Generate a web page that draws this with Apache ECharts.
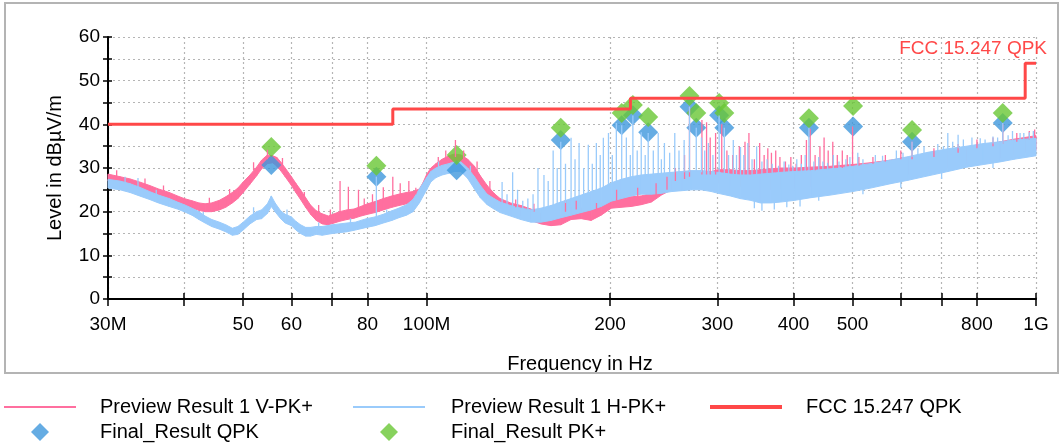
<!DOCTYPE html>
<html><head><meta charset="utf-8">
<script src="https://cdn.jsdelivr.net/npm/echarts@6/dist/echarts.min.js"></script>
<style>html,body{margin:0;padding:0;background:#fff}#c{width:1062px;height:445px}</style>
</head><body><div id="c"></div>
<script>
// ---------- data (frequencies in MHz, levels in dBµV/m) ----------
const TICK_FREQS = [30,40,50,60,70,80,100,200,300,400,500,600,700,800,1000];
const LABEL_FREQS = [30,50,60,80,100,200,300,400,500,800,1000];
const LABEL_TEXT = ['30M','50','60','80','100M','200','300','400','500','800','1G'];

// Preview Result 1 V-PK+ : [freq, low edge, high edge] of the noise band
const V_BAND = [
[30,27,28.6],[31.4,26.5,28],[32.6,25.8,27.5],[33.8,25,26.8],[35.1,24.2,26],[36.3,23.5,25.2],
[37.8,22.6,24.4],[39,22,23.6],[40,21.4,23],[41.2,20.8,22.5],[42.3,20.3,22],[43.3,20,21.8],
[44.4,20,22],[45.7,20.4,22.6],[46.8,21,23.4],[48,22,24.4],[49,23,25.4],[50,24.4,26.8],
[51.3,26.3,28.4],[52.6,28.2,30.2],[53.6,29.8,31.8],[54.8,31,33],[55.9,31.2,32.8],[56.8,30.4,32.4],
[57.6,29.4,31.4],[58.6,28,30],[60,26,28],[61,24.4,26.5],[62.1,22.8,25],[63.3,21,23.2],
[64.5,19.4,21.5],[65.9,18,20.2],[67.4,17.2,19.5],[69,17,19],[70.5,17.4,19.5],[72,17.8,20],
[74,18.2,20.4],[76,18.5,20.6],[78,19,21.2],[80,19.4,21.8],[82.3,19.8,22.3],[84.9,20.4,23],
[87.7,21,23.6],[90,21.4,24],[92.7,21.8,24.4],[95,22,24.6],[97.3,22.6,25.2],[98.6,24,26.6],
[100,26,28.5],[101.6,27.6,30],[103.6,28.6,31],[106,29.4,32],[108.8,30,32.8],[111,30.4,33.2],
[113.8,30,33],[116.8,28.8,32],[119.8,27,30.4],[122.5,25,28.2],[125.7,23.2,26],[129,21.6,24.2],
[132,20.8,23],[137.3,19.8,22],[142.8,19,21.4],[148.3,18,20.6],[154,17.2,19.6],[160,16.8,19],
[166,17,19.2],[172.6,18.2,21],[179.3,18.4,20.8],[186.2,18,20.4],[193.4,19.2,21.8],[200.9,20.8,23],
[208.7,21,23.2],[216.7,21.2,23.4],[225,21.6,23.6],[233.8,22.2,24.2],[242.8,23.8,26],[252,25,27.4],
[262,25.8,28],[272,26.4,28.6],[282.5,26.8,29],[293.4,27,29.2],[301,26.6,29.6],[315,26,29.6],
[327,25.8,29.4],[340,25.6,29.4],[353,25.4,29.6],[367,25.2,29.8],[381,25.2,30],[402,25.4,30],
[427,25.8,30.2],[460,26.2,30.4],[500,26.8,30.8],[535,27.4,31.2],[577,28,31.8],[617,28.6,32.4],
[665,29.2,33],[717,30,33.8],[770,30.8,34.6],[820,31.5,35.2],[873,32.4,36],[920,33,36.6],
[960,33.6,37],[1000,34,37.4]
];
// V spikes: [freq, foot, tip]
const V_SPIKES = [
[54.8,32,34.2],[72.1,19,27],[74.4,19.5,25.7],[77.3,20,25],[84.9,22,25.6],[88,23,28],
[111.5,32.5,36.4],[169,20,22.7],[256,27,30],[265,27.5,33],[270,28,44],[283,28.5,41],
[288,28.5,40.5],[292,28.5,37],[298,28.5,38],[305,29,40],[311,29,34],[318,29,33],[326,29,35],
[333,29,36],[338,29,38],[345,29,32],[352,29,35.7],[358,29,33],[363,29,34.5],[368,29,33.5],
[374,29,34],[380,29.5,32.5],[388,29.5,31.5],[396,29.5,32.5],[404,29.5,31],[412,29.5,33],
[420,29.5,36.4],[426,29.5,39],[434,29.5,33],[442,30,35],[449,30,37],[456,30,34],[464,30,36],
[472,30,33],[481,30,34],[490,30.5,33],[500,30.5,39.5],[512,30.5,32.5],[540,31,32.5],[566,31.5,33],
[600,32,34],[626,32,36],[680,32.5,34.5],[745,33.5,35.5],[800,34.5,36.5],[850,35,37],[882,35.5,40],
[930,36,38],[975,36.5,38.5],[995,37,38.8]
];
// short noise needles on the V trace
const V_NOISE = [
[31,28,29.5],[34.5,26,27.6],[37,24.5,26],[44,21.5,23.2],[47.5,23.5,25.2],[52,29.5,31.3],
[58,30.5,32.3],[63,22.5,24.5],[66.5,19.5,21.5],[69.5,18.5,20.5],[79,20.5,23],[81.5,21.5,24],
[90.5,23.5,26.5],[93.5,24,27],[96,24,25.5],[104.5,30.5,32.5],[107.5,31.5,34],[115,32,34],
[121,29,31.5],[127,25,27],[140,21,22.8],[150,20,21.8],[176,20.5,22.5],[190,20,22],
[205,22.5,25],[222,23,25.5],[238,23.5,26.5],[248,25,28]
];

// Preview Result 1 H-PK+
const H_BAND = [
[30,25.4,27.4],[31.4,25,27],[32.6,24.4,26.4],[33.8,23.6,25.6],[35.1,22.8,24.6],[36.3,22,23.8],
[37.8,21.2,23],[39,20.6,22.2],[40,20,21.6],[41.2,19.2,20.8],[42.3,18.2,20],[43.3,17.4,19],
[44.4,16.6,18.2],[45.7,16,17.6],[46.8,15.4,17],[48,14.6,16.2],[49,14.8,16.6],[50,15.8,17.6],
[51.3,17.2,19],[52.6,18.2,20],[53.6,18.4,20.4],[54.8,19.6,21.8],[55.6,21.2,23.6],[56.4,20,22],
[57.6,18.4,20.2],[58.6,17.4,19.4],[60,16.8,18.8],[61,15.8,17.8],[62.1,15,17],[63.3,14.4,16.4],
[64.5,14.4,16.4],[65.9,14.8,16.6],[67.4,14.6,16.6],[70,15,17],[72,15.2,17.2],[74,15.4,17.4],
[76.4,15.8,17.6],[79.7,16.4,18.4],[82.3,16.8,18.8],[84.9,17.4,19.4],[87.7,18,20.2],[90,18.6,20.8],
[92.7,19.2,21.6],[95,20,22.8],[97.3,22,25.2],[100,25,27.8],[101.6,26.8,29.2],[103.6,27.8,30],
[106,28.4,30.6],[108.8,28.8,31],[111,29.2,31.4],[113.8,29.2,31.4],[116.8,27.6,30],[119.8,25.2,28],
[122.5,23.2,26],[125.7,21.6,24],[129,20.6,23],[132,19.8,22.2],[137.3,19,21.4],[142.8,18.2,20.8],
[148.3,17.6,20.4],[154,17.6,20.8],[160,18,21.4],[166,18.6,22.2],[172.6,19.2,23],[179.3,19.8,23.8],
[186.2,20.4,24.6],[193.4,21.2,25.4],[200.9,22.4,26.6],[208.7,23,27.4],[216.7,23.6,28],[225,24,28.4],
[233.8,24,28.6],[242.8,24.2,28.8],[252,24.6,29],[262,24.8,29.2],[272,25,29.4],[282.5,25,29.4],
[293.4,24.6,29.2],[301,24.2,29],[315,23.6,28.6],[327,23,28.4],[340,22.6,28.4],[353,22,28.6],
[367,22,28.8],[381,22.2,29],[402,22.6,29.2],[427,23.2,29.4],[460,23.8,29.8],[500,24.6,30.4],
[535,25.4,31],[577,26.4,31.8],[617,27.2,32.6],[665,28.2,33.6],[717,29.2,34.4],[770,30.2,35],
[820,30.8,35.6],[873,31.4,36],[920,32,36.4],[960,32.4,36.6],[1000,32.8,36.8]
];
const H_SPIKES = [
[33.6,25,27.7],[82.7,18.5,28],[133,21.5,26.8],[135.5,21,24],[138.4,21,29],[141,20.5,25],
[143.8,20.5,22.5],[146.6,20,23],[149.5,20,24],[152.3,20,30],[155.8,20.5,28.4],[158.3,21,27],
[161.3,21,34],[163.8,21.5,30],[166,22,36],[169,22,31],[172.6,22.5,36.9],[175.2,23,32],
[177.9,23,35.7],[181,23.5,30],[184.2,24,35.3],[187,24,31],[189.9,24.5,35.7],[192.7,25,33],
[195,25,36.9],[198.8,26,38],[201.7,26.5,33],[204.8,27,40.3],[209,27,39.8],[212.7,27.5,37],
[215.9,27.5,33],[218,28,42],[221.6,28,34],[225,28,38.2],[228.4,28,33],[231,28,38],[235.5,28,34],
[239.9,28.5,38],[242.8,28.5,32],[245.6,28.5,35.7],[250.5,28.5,33.5],[255.4,29,38],[259.5,29,34],
[264.6,29,36.4],[270,29,44],[277,29,39.2],[282.5,29,37],[286,29,34],[290,29,35.7],[295,29,33],
[302,28.5,42],[308,28.5,39.2],[313,28.5,33],[318.6,28,36.4],[322.5,28,33],[327.4,28,34.8],
[331.5,28,33],[336.6,28,35.7],[342,28,32],[348,28,35],[355,28.5,31.5],[362,28.5,32],[369,28.5,31],
[399,29,30.5],[424,29,39.2],[447,29.5,31.5],[487.6,30,32],[626,32.5,36],[716.6,34,38],
[745,34.5,37.6],[825,35.5,36.5],[882,35.5,40.3],[941.6,36,38]
];
// short noise needles on the H trace (upper edge) and downward excursions (lower edge)
const H_NOISE = [
[32,26,28],[36,23.5,25],[43,18.5,20],[52,19.5,21],[59,19,20.5],[66.5,16,17.5],[75,17,18.5],
[86,19,20.5],[104.6,29.5,31.5],[118,29,30.5],
[378,28.5,30.5],[386,28.5,31.5],[393,28.7,30.8],[405,29,32],[412,29,31],[418,29,33],[432,29.2,31.5],
[440,29.3,32.5],[455,29.6,31.2],[465,29.7,33],[475,29.8,31.5],[495,30.2,32.5],[510,30.5,33.5],
[520,30.7,32],[545,31,33],[560,31.2,32.8],[590,31.8,34],[605,32,33.5],[640,32.8,34.5],[655,33,35],
[690,33.6,35.5],[705,33.8,35],[730,34.2,36],[760,34.6,36.5],[785,35,37],[810,35.3,36.8],
[850,35.6,37.2],[865,35.8,37],[900,36,37.5],[915,36.2,38.5],[955,36.4,38],[975,36.5,38.2],[990,36.6,38.5]
];
const H_DIPS = [
[345,23,20.8],[355,22.5,20.2],[372,22.5,20.5],[390,23,21],[410,23,21.2],
[440,24,22.5],[520,25.5,24],[600,27,25.5],[700,29,27.5],[850,31.5,30]
];

// FCC 15.247 QPK limit
const LIMIT_FREQ = [30,88,88,216,216,960,960,1000];
const LIMIT_VAL  = [40,40,43.5,43.5,46,46,54,54];

// Final results
const FINAL_FREQ = [55.6,82.7,112,166,209,218,231,270,277,302,308,424,501,626,882];
const QPK_VAL = [30.7,28.0,29.5,36.4,39.8,42.1,38.2,44.0,39.2,42.1,39.2,39.2,39.5,36.0,40.3];
const PK_VAL  = [34.8,30.5,33.0,39.2,42.6,44.4,41.7,46.5,42.6,44.9,42.6,41.4,44.2,38.7,42.6];

// ---------- styling ----------
const FONT = "'Liberation Sans', Arial, sans-serif";
const PINK = '#ff6f9f', LBLUE = '#9acbfb', RED = '#ff4848', BLUE = '#3f97dc', GREEN = '#69c735';
const lx = f => Math.log10(f);
const XMIN = lx(TICK_FREQS[0]), XMAX = lx(TICK_FREQS[TICK_FREQS.length - 1]);

// noise band drawn as quads between consecutive samples, positioned through the axes
function band(name, arr, color) {
  return {
    name, type: 'custom', silent: true, itemStyle: {color},
    data: arr.map(d => [lx(d[0]), d[1], d[2]]),
    encode: {x: 0, y: [1, 2]},
    renderItem: (params, api) => {
      const i = params.dataIndexInside;
      if (i >= params.dataInsideLength - 1) return null;
      const x0 = api.value(0, i), x1 = api.value(0, i + 1);
      const pts = [
        api.coord([x0, api.value(1, i)]), api.coord([x1, api.value(1, i + 1)]),
        api.coord([x1, api.value(2, i + 1)]), api.coord([x0, api.value(2, i)])
      ];
      return {type: 'polygon', shape: {points: pts},
              style: {fill: color, stroke: color, lineWidth: 1}};
    }
  };
}
function spikes(name, lists, color) {
  const data = [];
  lists.forEach(arr => arr.forEach(d => {
    const x = lx(d[0]);
    data.push([x, d[1]], [x, d[2]], [x, '-']);
  }));
  return {name, type: 'line', symbol: 'none', silent: true, connectNulls: false,
          lineStyle: {color, width: 1.3}, itemStyle: {color}, data};
}

const gridLine = {show: true, lineStyle: {color: '#b5b5b5', width: 1.2, type: [2, 3]}};
const tickVals = TICK_FREQS.map(lx);

function legendItem(name, left, top, w, h, pad, icon) {
  return {
    data: [icon ? {name, icon} : name], left, top, itemWidth: w, itemHeight: h, padding: 0, selectedMode: false,
    formatter: '{t|{name}}',
    textStyle: {fontSize: 20, color: '#000', fontFamily: FONT,
      rich: {t: {padding: [0, 0, 0, pad], fontSize: 20, color: '#000', fontFamily: FONT}}}
  };
}

const chart = echarts.init(document.getElementById('c'), null, {renderer: 'canvas'});
chart.setOption({
  animation: false,
  backgroundColor: '#fff',
  grid: {left: 108, right: 26, top: 37, bottom: 146, containLabel: false},
  xAxis: [{
    type: 'value', min: XMIN, max: XMAX, position: 'bottom',
    axisLine: {lineStyle: {color: '#000', width: 2}},
    axisTick: {customValues: tickVals, length: 7, lineStyle: {color: '#000', width: 1.5}},
    axisLabel: {customValues: LABEL_FREQS.map(lx), margin: 16, fontSize: 19, color: '#000', fontFamily: FONT,
      formatter: v => { const i = LABEL_FREQS.indexOf(Math.round(Math.pow(10, v))); return i >= 0 ? LABEL_TEXT[i] : ''; }},
    splitLine: gridLine,
    name: 'Frequency in Hz', nameLocation: 'middle', nameGap: 55,
    nameTextStyle: {fontSize: 20, color: '#000', fontFamily: FONT, padding: [0, 0, 0, 16]}
  }, {
    type: 'value', min: XMIN, max: XMAX, position: 'bottom',
    axisLine: {show: false}, axisLabel: {show: false}, splitLine: {show: false},
    axisTick: {customValues: tickVals, inside: true, length: 6, lineStyle: {color: '#000', width: 1.5}}
  }],
  yAxis: [{
    type: 'value', min: 0, max: 60, interval: 5, position: 'left',
    axisLine: {show: true, lineStyle: {color: '#000', width: 2}},
    axisTick: {show: true, length: 5, lineStyle: {color: '#000', width: 1.5}},
    axisLabel: {margin: 8, fontSize: 19, color: '#000', fontFamily: FONT,
      formatter: v => (v % 10 === 0 ? String(v) : '')},
    splitLine: gridLine,
    name: 'Level in dBµV/m', nameLocation: 'middle', nameGap: 43,
    nameTextStyle: {fontSize: 20, color: '#000', fontFamily: FONT}
  }, {
    type: 'value', min: 0, max: 60, interval: 5, position: 'left',
    axisLine: {show: false}, axisLabel: {show: false}, splitLine: {show: false},
    axisTick: {show: true, inside: true, length: 4, lineStyle: {color: '#000', width: 1.5}}
  }],
  legend: [
    legendItem('Preview Result 1 V-PK+', 4, 397, 72, 2, 19, 'rect'),
    legendItem('Preview Result 1 H-PK+', 353, 397, 72, 2, 21, 'rect'),
    legendItem('FCC 15.247 QPK', 710, 397, 72, 4, 19, 'rect'),
    legendItem('Final_Result QPK', 31, 422, 18, 18, 46),
    legendItem('Final_Result PK+', 380, 422, 18, 18, 48)
  ],
  series: [
    band('Preview Result 1 V-PK+', V_BAND, PINK),
    spikes('Preview Result 1 V-PK+', [V_SPIKES, V_NOISE], PINK),
    band('Preview Result 1 H-PK+', H_BAND, LBLUE),
    spikes('Preview Result 1 H-PK+', [H_SPIKES, H_NOISE, H_DIPS], LBLUE),
    {name: 'FCC 15.247 QPK', type: 'line', symbol: 'none', silent: true,
     lineStyle: {color: RED, width: 3}, itemStyle: {color: RED},
     data: LIMIT_FREQ.map((f, i) => [lx(f), LIMIT_VAL[i]]),
     markPoint: {silent: true, symbol: 'circle', symbolSize: 1, itemStyle: {color: 'rgba(0,0,0,0)'},
       label: {show: true, position: 'top', align: 'right', offset: [11, 1], distance: 5,
               formatter: 'FCC 15.247 QPK', color: RED, fontSize: 19, fontFamily: FONT},
       data: [{coord: [lx(LIMIT_FREQ[LIMIT_FREQ.length - 1]), LIMIT_VAL[LIMIT_VAL.length - 1]]}]}},
    {name: 'Final_Result QPK', type: 'scatter', symbol: 'diamond', symbolSize: 20, silent: true,
     itemStyle: {color: BLUE}, data: FINAL_FREQ.map((f, i) => [lx(f), QPK_VAL[i]])},
    {name: 'Final_Result PK+', type: 'scatter', symbol: 'diamond', symbolSize: 20, silent: true,
     itemStyle: {color: GREEN}, data: FINAL_FREQ.map((f, i) => [lx(f), PK_VAL[i]])}
  ],
  graphic: [
    {type: 'rect', z: 100, silent: true, shape: {x: 0, y: 374, width: 1062, height: 9}, style: {fill: '#fff'}},
    {type: 'rect', z: 101, silent: true, shape: {x: 5, y: 3, width: 1053, height: 370},
     style: {fill: 'none', stroke: '#b4b4b4', lineWidth: 2}}
  ]
});
</script></body></html>
